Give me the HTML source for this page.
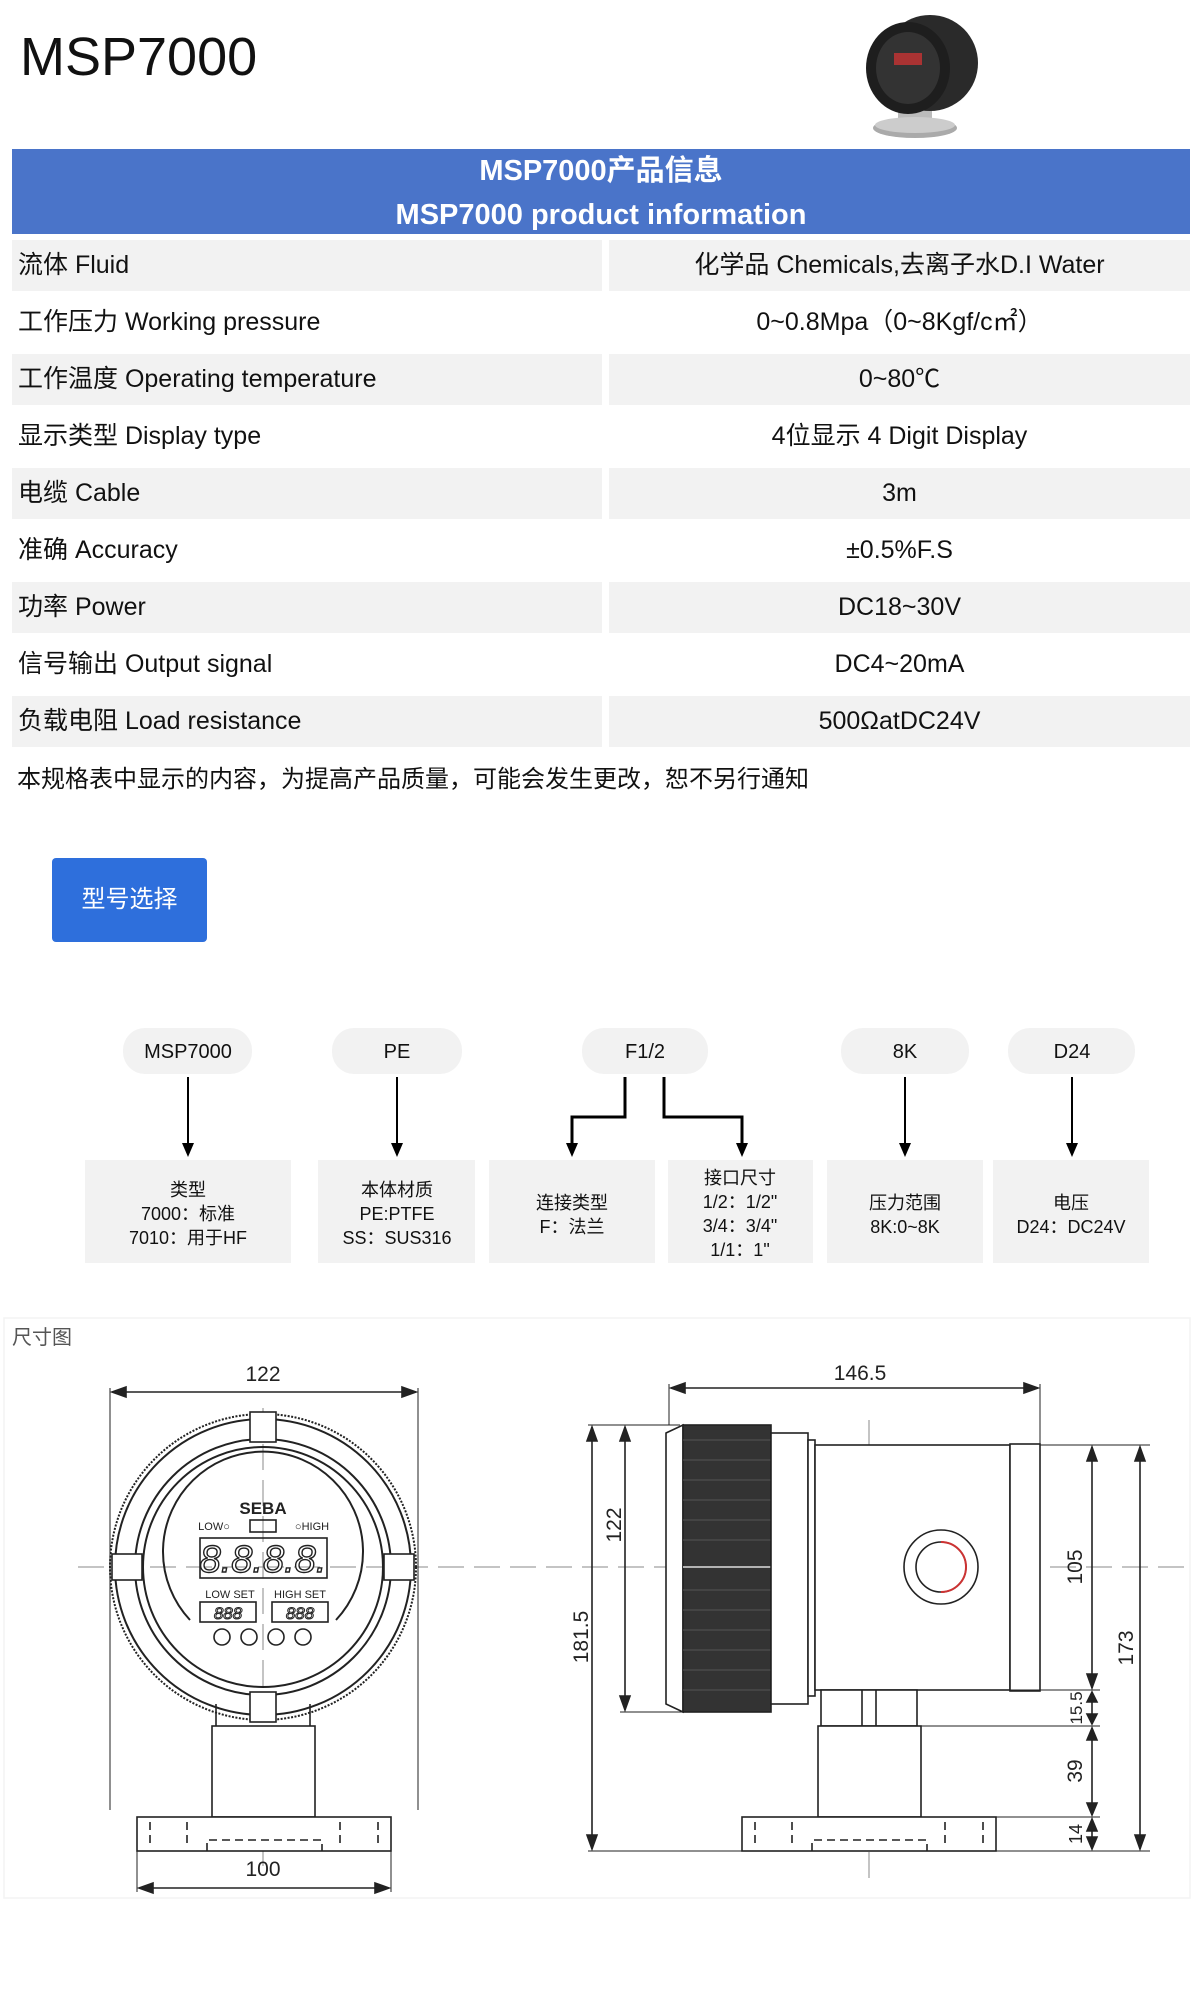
<!DOCTYPE html>
<html><head><meta charset="utf-8"><style>
*{margin:0;padding:0;box-sizing:border-box}
body{width:1200px;height:2010px;background:#fff;position:relative;font-family:"Liberation Sans","Noto Sans CJK SC",sans-serif;color:#111;overflow:hidden}
.a{position:absolute}
.row{position:absolute;left:12px;width:1178px;height:51px;font-size:25px;}
.row .l,.row .r{position:absolute;top:0;height:51px;line-height:51px}
.row .l{left:0;width:590px;padding-left:6px}
.row .r{left:597px;width:581px;text-align:center}
.g .l,.g .r{background:#f2f2f2}
</style></head><body>
<div class="a" style="left:20px;top:22px;font-size:54px;line-height:70px">MSP7000</div>
<svg class="a" style="left:850px;top:8px" width="135" height="132">
<rect x="48" y="95" width="34" height="22" fill="#bbb"/>
<ellipse cx="65" cy="120" rx="42" ry="10" fill="#aaa"/>
<ellipse cx="65" cy="117" rx="40" ry="8" fill="#ccc"/>
<ellipse cx="80" cy="55" rx="48" ry="48" fill="#2a2a2a"/>
<ellipse cx="58" cy="60" rx="42" ry="46" fill="#1e1e1e"/>
<ellipse cx="58" cy="60" rx="32" ry="36" fill="#333"/>
<rect x="44" y="45" width="28" height="12" fill="#a33"/>
</svg>
<div class="a" style="left:12px;top:149px;width:1178px;height:85px;background:#4a74c9;color:#fff;font-weight:bold;font-size:29px;text-align:center;line-height:44px">MSP7000产品信息<br>MSP7000 product information</div>
<div class="row g" style="top:240px"><div class="l">流体 Fluid</div><div class="r">化学品 Chemicals,去离子水D.I Water</div></div>
<div class="row" style="top:297px"><div class="l">工作压力 Working pressure</div><div class="r">0~0.8Mpa（0~8Kgf/c㎡）</div></div>
<div class="row g" style="top:354px"><div class="l">工作温度 Operating temperature</div><div class="r">0~80℃</div></div>
<div class="row" style="top:411px"><div class="l">显示类型 Display type</div><div class="r">4位显示 4 Digit Display</div></div>
<div class="row g" style="top:468px"><div class="l">电缆 Cable</div><div class="r">3m</div></div>
<div class="row" style="top:525px"><div class="l">准确 Accuracy</div><div class="r">±0.5%F.S</div></div>
<div class="row g" style="top:582px"><div class="l">功率 Power</div><div class="r">DC18~30V</div></div>
<div class="row" style="top:639px"><div class="l">信号输出 Output signal</div><div class="r">DC4~20mA</div></div>
<div class="row g" style="top:696px"><div class="l">负载电阻 Load resistance</div><div class="r">500ΩatDC24V</div></div>
<div class="a" style="left:17px;top:762px;font-size:24px;line-height:36px">本规格表中显示的内容，为提高产品质量，可能会发生更改，恕不另行通知</div>
<div class="a" style="left:52px;top:858px;width:155px;height:84px;background:#2e6fdc;border-radius:4px;color:#fff;font-size:24px;line-height:84px;text-align:center">型号选择</div>

<svg class="a" style="left:0;top:1000px" width="1200" height="300" font-family="Liberation Sans,Noto Sans CJK SC,sans-serif" font-size="20" text-anchor="middle">
<defs><marker id="ar" markerWidth="10" markerHeight="12" refX="5" refY="12" orient="auto" markerUnits="userSpaceOnUse"><path d="M0,0 L10,0 L5,12z" fill="#000" transform="rotate(-90 5 6) translate(0 0)"/></marker></defs>
<g fill="#f2f2f2">
<rect x="123" y="28" width="129" height="46" rx="22"/>
<rect x="332" y="28" width="130" height="46" rx="22"/>
<rect x="582" y="28" width="126" height="46" rx="22"/>
<rect x="841" y="28" width="128" height="46" rx="22"/>
<rect x="1008" y="28" width="127" height="46" rx="22"/>
<rect x="85" y="160" width="206" height="103"/>
<rect x="318" y="160" width="157" height="103"/>
<rect x="489" y="160" width="166" height="103"/>
<rect x="668" y="160" width="145" height="103"/>
<rect x="827" y="160" width="156" height="103"/>
<rect x="993" y="160" width="156" height="103"/>
</g>
<g fill="#111">
<text x="188" y="58">MSP7000</text><text x="397" y="58">PE</text><text x="645" y="58">F1/2</text><text x="905" y="58">8K</text><text x="1072" y="58">D24</text>
</g>
<g stroke="#000" stroke-width="2" fill="none">
<path d="M188 77V145"/><path d="M397 77V145"/><path d="M905 77V145"/><path d="M1072 77V145"/>
<path d="M625 77V117H572V145" stroke-width="3"/><path d="M664 77V117H742V145" stroke-width="3"/>
</g>
<g fill="#000">
<path d="M182 143h12l-6 14z"/><path d="M391 143h12l-6 14z"/><path d="M899 143h12l-6 14z"/><path d="M1066 143h12l-6 14z"/><path d="M566 143h12l-6 14z"/><path d="M736 143h12l-6 14z"/>
</g>
<g font-size="18" fill="#111">
<text x="188" y="196">类型</text><text x="188" y="220">7000：标准</text><text x="188" y="244">7010：用于HF</text>
<text x="397" y="196">本体材质</text><text x="397" y="220">PE:PTFE</text><text x="397" y="244">SS：SUS316</text>
<text x="572" y="209">连接类型</text><text x="572" y="233">F：法兰</text>
<text x="740" y="184">接口尺寸</text><text x="740" y="208">1/2：1/2"</text><text x="740" y="232">3/4：3/4"</text><text x="740" y="256">1/1：1"</text>
<text x="905" y="209">压力范围</text><text x="905" y="233">8K:0~8K</text>
<text x="1071" y="209">电压</text><text x="1071" y="233">D24：DC24V</text>
</g>
</svg>

<svg class="a" style="left:0;top:1300px" width="1200" height="620" font-family="Liberation Sans,sans-serif" font-size="21" fill="none" stroke="#222" stroke-width="1.6">
<rect x="4" y="18" width="1186" height="580" stroke="#f3f3f3"/>
<text x="12" y="44" font-family="Liberation Sans,Noto Sans CJK SC,sans-serif" font-size="20" fill="#555" stroke="none">尺寸图</text>
<!-- center lines -->
<path d="M78 267H1190" stroke="#888" stroke-width="1" stroke-dasharray="26 10"/>
<path d="M263 108V570" stroke="#888" stroke-width="1" stroke-dasharray="26 10"/>
<path d="M869 120V580" stroke="#888" stroke-width="1" stroke-dasharray="26 10"/>
<!-- left view -->
<path d="M110 88V510M418 88V510" stroke-width="1"/>
<path d="M112 92H416"/><path d="M112 92l14-5v10zM416 92l-14-5v10z" fill="#222"/>
<text x="263" y="81" text-anchor="middle" fill="#222" stroke="none">122</text>
<circle cx="263" cy="267" r="153" stroke-width="2" stroke-dasharray="2 1.5"/>
<circle cx="263" cy="267" r="148" stroke-width="2"/>
<circle cx="263" cy="267" r="128" stroke-width="2"/>
<circle cx="263" cy="267" r="120" stroke-width="2"/>
<rect x="250" y="112" width="26" height="30" fill="#fff"/><rect x="250" y="392" width="26" height="30" fill="#fff"/>
<rect x="112" y="254" width="30" height="26" fill="#fff"/><rect x="384" y="254" width="30" height="26" fill="#fff"/>
<path d="M190 320A100 100 0 1 1 336 320" stroke-width="2"/>
<text x="263" y="214" text-anchor="middle" font-weight="bold" font-size="17" fill="#222" stroke="none">SEBA</text>
<text x="214" y="230" font-size="11" fill="#222" stroke="none" text-anchor="middle">LOW○</text>
<rect x="250" y="220" width="26" height="12"/>
<text x="312" y="230" font-size="11" fill="#222" stroke="none" text-anchor="middle">○HIGH</text>
<rect x="200" y="238" width="127" height="40"/>
<text x="263" y="272" text-anchor="middle" font-size="38" font-style="italic" fill="#fff" stroke="#222" stroke-width="1.4">8.8.8.8.</text>
<text x="230" y="298" text-anchor="middle" font-size="11" fill="#222" stroke="none">LOW SET</text>
<text x="300" y="298" text-anchor="middle" font-size="11" fill="#222" stroke="none">HIGH SET</text>
<rect x="200" y="302" width="56" height="20"/><rect x="272" y="302" width="56" height="20"/>
<text x="228" y="319" text-anchor="middle" font-size="17" font-style="italic" fill="#fff" stroke="#222" stroke-width="1">888</text>
<text x="300" y="319" text-anchor="middle" font-size="17" font-style="italic" fill="#fff" stroke="#222" stroke-width="1">888</text>
<circle cx="222" cy="337" r="8"/><circle cx="249" cy="337" r="8"/><circle cx="276" cy="337" r="8"/><circle cx="303" cy="337" r="8"/>
<path d="M216 404V426M310 404V426"/>
<rect x="212" y="426" width="103" height="91" fill="#fff"/>
<rect x="137" y="517" width="254" height="34" fill="#fff"/>
<path d="M150 522V546M187 522V546M340 522V546M378 522V546M207 551V540H322V551" stroke-dasharray="8 5"/>
<path d="M137 551V592M391 551V592" stroke-width="1"/>
<path d="M139 588H389"/><path d="M139 588l14-5v10zM389 588l-14-5v10z" fill="#222"/>
<text x="263" y="576" text-anchor="middle" fill="#222" stroke="none">100</text>
<!-- right view -->
<path d="M669 84V125M1040 84V145" stroke-width="1"/>
<path d="M671 88H1038"/><path d="M671 88l14-5v10zM1038 88l-14-5v10z" fill="#222"/>
<text x="860" y="80" text-anchor="middle" fill="#222" stroke="none">146.5</text>
<path d="M666 133L683 125V412L666 404Z" fill="#fff"/>
<rect x="683" y="125" width="88" height="287" fill="#333"/>
<g stroke="#555" stroke-width="1"><path d="M683 140H771M683 160H771M683 180H771M683 200H771M683 220H771M683 240H771M683 290H771M683 310H771M683 330H771M683 350H771M683 370H771M683 390H771"/></g>
<path d="M683 267H771" stroke="#ddd" stroke-width="1.5"/>
<rect x="771" y="133" width="37" height="271" fill="#fff"/>
<rect x="808" y="140" width="7" height="256" fill="#fff"/>
<rect x="815" y="145" width="195" height="245" fill="#fff"/>
<rect x="1010" y="144" width="30" height="247" fill="#fff"/>
<circle cx="941" cy="267" r="37"/><circle cx="941" cy="267" r="25"/>
<path d="M941 242A25 25 0 0 1 941 292" stroke="#c33" stroke-width="2"/>
<rect x="821" y="390" width="96" height="36" fill="#fff"/>
<path d="M862 390V426M876 390V426"/>
<rect x="818" y="426" width="103" height="91" fill="#fff"/>
<rect x="742" y="517" width="254" height="34" fill="#fff"/>
<path d="M755 522V546M792 522V546M945 522V546M983 522V546M812 551V540H927V551" stroke-dasharray="8 5"/>
<g stroke-width="1"><path d="M588 125H680M620 412H690M1040 145H1150M1010 390H1100M921 426H1100M996 517H1100M742 551H1150M588 551H742"/></g>
<path d="M592 127V549M625 127V410M1092 147V388M1092 392V424M1092 428V515M1092 519V549M1140 147V549"/>
<g fill="#222">
<path d="M592 127l-5 14h10zM592 549l-5-14h10zM625 127l-5 14h10zM625 410l-5-14h10zM1092 147l-5 14h10zM1092 388l-5-14h10zM1140 147l-5 14h10zM1140 549l-5-14h10zM1092 392l-5 10h10zM1092 424l-5-10h10zM1092 428l-5 12h10zM1092 515l-5-12h10zM1092 519l-5 12h10zM1092 549l-5-12h10z"/>
</g>
<g fill="#222" stroke="none" text-anchor="middle">
<text transform="translate(588 337) rotate(-90)">181.5</text>
<text transform="translate(621 225) rotate(-90)">122</text>
<text transform="translate(1082 267) rotate(-90)">105</text>
<text transform="translate(1082 408) rotate(-90)" font-size="17">15.5</text>
<text transform="translate(1082 471) rotate(-90)">39</text>
<text transform="translate(1082 534) rotate(-90)" font-size="18">14</text>
<text transform="translate(1133 348) rotate(-90)">173</text>
</g>
</svg>
</body></html>
